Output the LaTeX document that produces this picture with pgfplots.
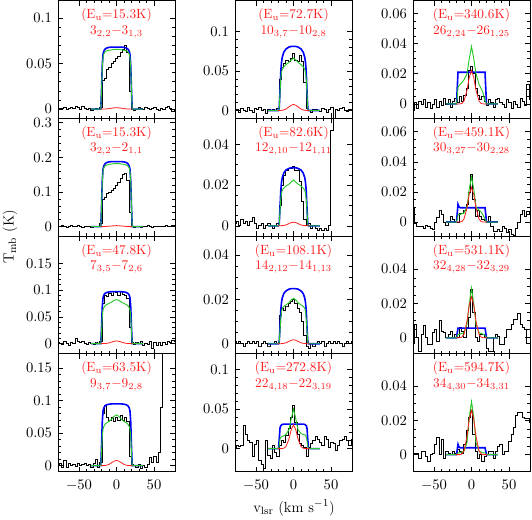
\documentclass[border=0pt]{standalone}
\usepackage{pgfplots}
\usepackage{pgfplotstable}
\pgfplotsset{compat=1.18}
\definecolor{mgreen}{RGB}{40,200,40}
\definecolor{mred}{RGB}{255,30,30}
\definecolor{mblue}{RGB}{0,0,255}

\pgfplotstableread{
x A B C D E F G H I J K L
-78 0.000 0.002 0.003 0.001 0.002 0.001 0.001 0.000 -0.004 0.010 -0.003 0.000
-75 0.001 0.000 0.000 0.003 0.001 0.002 0.000 0.004 0.001 -0.001 0.008 0.001
-72 0.001 0.003 -0.002 -0.002 -0.002 0.000 0.001 0.003 -0.003 -0.003 0.000 0.001
-69 0.002 0.001 0.004 0.008 0.003 0.003 0.000 0.004 0.002 -0.003 -0.008 -0.002
-66 0.000 -0.002 0.001 -0.002 0.000 0.001 -0.001 0.030 0.000 -0.003 0.002 0.002
-63 0.001 0.002 -0.003 0.003 -0.001 0.002 0.000 0.018 0.003 -0.004 0.007 0.002
-60 0.002 0.004 0.002 0.000 0.004 0.000 0.001 0.010 -0.002 -0.002 0.000 -0.001
-57 0.001 0.001 0.000 0.002 0.000 0.002 0.000 0.008 0.001 -0.003 -0.004 -0.004
-54 0.003 0.000 0.010 -0.001 -0.002 0.004 0.001 -0.010 -0.003 -0.004 -0.004 0.000
-51 0.002 0.003 0.004 0.004 0.003 0.001 0.000 0.005 0.000 -0.005 0.003 0.001
-48 0.000 0.002 0.002 0.000 0.001 -0.001 0.001 0.010 0.003 0.000 0.005 0.006
-45 0.003 -0.001 0.005 0.002 0.004 0.000 -0.001 -0.015 -0.002 0.003 -0.002 0.010
-42 0.001 0.000 0.001 0.003 0.000 0.001 0.000 -0.020 0.002 0.008 0.010 0.000
-39 0.000 0.002 -0.002 0.000 0.002 -0.001 0.001 -0.025 -0.001 0.005 0.004 0.009
-36 0.001 0.001 0.002 0.002 -0.003 0.000 0.000 0.010 0.004 0.000 0.003 -0.002
-33 -0.001 -0.002 0.000 -0.002 0.001 0.001 -0.001 -0.008 0.000 -0.002 0.000 0.002
-30 0.000 0.001 -0.002 0.004 0.000 0.000 0.000 -0.012 0.003 0.000 0.002 0.001
-27 0.001 0.000 0.003 0.010 0.002 -0.001 0.000 0.004 -0.002 0.004 0.004 0.000
-24 0.000 0.001 0.001 -0.002 0.000 0.000 0.001 -0.005 0.002 0.002 0.000 0.002
-21 0.002 0.010 0.005 0.005 0.003 0.001 0.000 -0.010 0.004 0.000 0.002 0.001
-18 0.032 0.080 0.075 0.080 0.040 0.010 0.013 0.004 0.001 0.000 0.000 0.003
-15 0.034 0.086 0.090 0.092 0.055 0.020 0.016 0.010 0.005 0.006 0.006 0.002
-12 0.044 0.095 0.088 0.075 0.060 0.025 0.015 0.008 0.002 0.006 0.004 0.001
-9 0.046 0.100 0.094 0.070 0.064 0.027 0.017 0.017 0.006 0.008 0.000 0.006
-6 0.050 0.105 0.090 0.075 0.062 0.028 0.018 0.025 0.010 0.012 0.006 0.014
-3 0.052 0.112 0.098 0.068 0.066 0.028 0.019 0.040 0.022 0.020 0.012 0.022
0 0.056 0.118 0.095 0.075 0.072 0.029 0.020 0.055 0.025 0.032 0.028 0.026
3 0.058 0.128 0.090 0.070 0.064 0.027 0.018 0.033 0.020 0.015 0.015 0.012
6 0.062 0.140 0.097 0.077 0.062 0.027 0.016 0.018 0.010 0.004 0.000 0.002
9 0.066 0.150 0.092 0.070 0.070 0.022 0.014 0.006 0.006 0.008 -0.002 -0.002
12 0.070 0.155 0.090 0.075 0.062 0.012 0.010 0.004 0.003 0.004 0.002 0.000
15 0.062 0.135 0.085 0.068 0.035 0.003 0.004 0.002 0.005 0.002 0.002 -0.004
18 0.020 0.040 0.030 0.015 0.003 0.000 -0.001 -0.010 0.002 0.001 0.000 -0.001
21 0.000 0.000 0.002 0.002 0.000 0.001 -0.002 0.002 -0.001 0.000 -0.006 0.000
24 -0.001 -0.003 -0.002 0.000 -0.002 -0.001 0.000 0.006 0.003 0.004 -0.008 0.002
27 0.000 0.001 0.003 -0.002 0.001 0.000 -0.001 0.010 0.001 -0.003 -0.008 0.002
30 0.002 0.002 0.000 0.002 0.002 -0.001 0.000 0.016 -0.002 -0.006 0.000 -0.002
33 0.001 -0.002 0.004 -0.004 0.000 -0.002 0.001 0.012 0.003 -0.006 0.002 0.002
36 0.000 0.000 -0.003 0.000 -0.001 -0.001 0.000 0.008 0.004 -0.005 0.001 0.005
39 0.002 0.001 0.001 -0.003 0.003 -0.002 0.001 0.004 0.001 -0.006 -0.004 0.006
42 0.001 0.003 -0.002 0.002 0.001 -0.001 -0.001 0.015 0.000 -0.003 -0.004 0.000
45 0.000 0.000 0.004 0.012 -0.002 -0.002 0.000 0.012 -0.002 -0.004 0.000 0.002
48 0.001 -0.001 -0.008 0.005 0.002 0.000 0.001 0.002 0.003 -0.007 0.005 0.002
51 0.002 0.002 0.002 0.015 0.004 0.047 0.000 0.008 0.001 -0.005 0.005 0.008
54 0.000 0.001 -0.003 0.005 -0.012 0.070 0.001 0.006 -0.003 -0.008 0.008 0.012
57 -0.001 0.000 0.003 0.020 0.002 0.070 0.000 -0.002 0.002 -0.009 0.011 0.016
60 0.001 0.002 -0.004 0.090 0.000 0.070 0.001 0.004 0.000 -0.004 0.011 0.023
63 0.000 0.001 0.002 0.250 0.003 0.070 0.000 0.010 -0.002 0.000 0.014 0.025
66 0.002 0.004 -0.001 0.300 0.004 0.070 -0.001 0.012 0.004 0.005 0.008 0.025
69 0.003 0.002 0.004 0.300 0.000 0.070 0.000 0.016 0.002 0.008 0.006 0.022
72 0.001 0.000 0.002 0.300 -0.001 0.070 0.001 0.010 -0.001 0.004 0.005 0.021
75 -0.002 0.003 0.006 0.300 0.002 0.070 0.000 0.004 0.013 0.007 -0.003 0.021
78 0.000 0.001 0.004 0.300 0.001 0.070 0.001 0.012 0.003 0.006 -0.003 0.019
}\obs

\pgfplotstableread{
v b g r
-34 0 0 nan
-21 0 0 0
-20 0.0204 0.019 0.0001
-19 0.0476 0.045 0.0001
-18 0.0598 0.056 0.0001
-17 0.0632 0.060 0.0002
-16 0.0649 0.062 0.0002
-15 0.0660 0.063 0.0002
-13 0.0670 0.064 0.0003
-10 0.0677 0.0645 0.0006
-6 0.068 0.065 0.0011
-3 0.068 0.0655 0.0014
0 0.068 0.0655 0.0015
3 0.068 0.0655 0.0014
6 0.068 0.065 0.0011
10 0.0677 0.0645 0.0006
13 0.0670 0.064 0.0003
15 0.0660 0.063 0.0002
16 0.0649 0.062 0.0002
17 0.0632 0.060 0.0002
18 0.0598 0.056 0.0001
19 0.0476 0.045 0.0001
20 0.0204 0.019 0.0001
21 0 0 0
35 0 0 nan
}\mA

\pgfplotstableread{
v b g r
-34 0 0 nan
-21 0 0 0
-20 0.0564 0.054 0.0001
-19 0.1316 0.127 0.0001
-18 0.1654 0.160 0.0002
-17 0.1748 0.169 0.0003
-16 0.1795 0.173 0.0004
-15 0.1824 0.176 0.0005
-13 0.1852 0.178 0.0008
-10 0.1871 0.180 0.0013
-6 0.188 0.181 0.0021
-3 0.188 0.182 0.0027
0 0.188 0.182 0.003
3 0.188 0.182 0.0027
6 0.188 0.181 0.0021
10 0.1871 0.180 0.0013
13 0.1852 0.178 0.0008
15 0.1824 0.176 0.0005
16 0.1795 0.173 0.0004
17 0.1748 0.169 0.0003
18 0.1654 0.160 0.0002
19 0.1316 0.127 0.0001
20 0.0564 0.054 0.0001
21 0 0 0
35 0 0 nan
}\mB

\pgfplotstableread{
v b g r
-34 0 0 nan
-21 0 0 0
-20 0.0291 0.022 0
-19 0.0679 0.050 0
-18 0.0854 0.063 0.0001
-17 0.0902 0.067 0.0001
-16 0.0926 0.069 0.0002
-15 0.0941 0.071 0.0002
-13 0.0955 0.073 0.0005
-10 0.0965 0.075 0.0013
-6 0.097 0.078 0.003
-3 0.097 0.081 0.0044
0 0.097 0.082 0.005
3 0.097 0.081 0.0044
6 0.097 0.078 0.003
10 0.0965 0.075 0.0013
13 0.0955 0.073 0.0005
15 0.0941 0.071 0.0002
16 0.0926 0.069 0.0002
17 0.0902 0.067 0.0001
18 0.0854 0.063 0.0001
19 0.0679 0.050 0
20 0.0291 0.022 0
21 0 0 0
35 0 0 nan
}\mC

\pgfplotstableread{
v b g r
-34 0 0 nan
-21 0 0 0
-20 0.0285 0.020 0
-19 0.0665 0.045 0.0001
-18 0.0836 0.056 0.0001
-17 0.0884 0.060 0.0002
-16 0.0907 0.062 0.0003
-15 0.0922 0.064 0.0003
-13 0.0936 0.066 0.0008
-10 0.0945 0.068 0.002
-6 0.095 0.072 0.0049
-3 0.095 0.076 0.007
0 0.095 0.078 0.008
3 0.095 0.076 0.007
6 0.095 0.072 0.0049
10 0.0945 0.068 0.002
13 0.0936 0.066 0.0008
15 0.0922 0.064 0.0003
16 0.0907 0.062 0.0003
17 0.0884 0.060 0.0002
18 0.0836 0.056 0.0001
19 0.0665 0.045 0.0001
20 0.0285 0.020 0
21 0 0 0
35 0 0 nan
}\mD

\pgfplotstableread{
v b g r
-34 0 0 nan
-21 0 0 0
-20 0 0 0
-19 0.004 0.004 0
-18 0.0243 0.022 0.0001
-17 0.0486 0.040 0.0001
-16 0.0608 0.048 0.0002
-15 0.0672 0.052 0.0003
-13 0.0737 0.055 0.0007
-10 0.0778 0.058 0.0019
-6 0.0802 0.061 0.0046
-3 0.081 0.064 0.0067
0 0.081 0.066 0.0076
3 0.081 0.064 0.0067
6 0.0802 0.061 0.0046
10 0.0778 0.058 0.0019
13 0.0737 0.055 0.0007
15 0.0672 0.052 0.0003
16 0.0608 0.048 0.0002
17 0.0486 0.040 0.0001
18 0.0243 0.022 0.0001
19 0.004 0.004 0
20 0 0 0
21 0 0 0
35 0 0 nan
}\mE

\pgfplotstableread{
v b g r
-34 0 0 nan
-21 0 0 0
-20 0 0 0
-19 0.0014 0.001 0
-18 0.0086 0.007 0
-17 0.0171 0.013 0
-16 0.0214 0.016 0.0001
-15 0.0237 0.0175 0.0001
-13 0.0259 0.0185 0.0002
-10 0.0274 0.0195 0.00045
-6 0.0282 0.0205 0.0011
-3 0.0285 0.0215 0.0016
0 0.0285 0.0225 0.0018
3 0.0285 0.0215 0.0016
6 0.0282 0.0205 0.0011
10 0.0274 0.0195 0.00045
13 0.0259 0.0185 0.0002
15 0.0237 0.0175 0.0001
16 0.0214 0.016 0.0001
17 0.0171 0.013 0
18 0.0086 0.007 0
19 0.0014 0.001 0
20 0 0 0
21 0 0 0
35 0 0 nan
}\mF

\pgfplotstableread{
v b g r
-34 0 0 nan
-21 0 0 0
-20 0 0 0
-19 0.0012 0.001 0
-18 0.0074 0.006 0
-17 0.0149 0.011 0
-16 0.0186 0.0145 0.0001
-15 0.0206 0.016 0.0001
-13 0.0226 0.0168 0.0002
-10 0.0238 0.0175 0.00045
-6 0.0246 0.0185 0.0011
-3 0.0248 0.0198 0.0016
0 0.0248 0.0204 0.0018
3 0.0248 0.0198 0.0016
6 0.0246 0.0185 0.0011
10 0.0238 0.0175 0.00045
13 0.0226 0.0168 0.0002
15 0.0206 0.016 0.0001
16 0.0186 0.0145 0.0001
17 0.0149 0.011 0
18 0.0074 0.006 0
19 0.0012 0.001 0
20 0 0 0
21 0 0 0
35 0 0 nan
}\mG

\pgfplotstableread{
v b g r
-34 0 0 nan
-21 0 0 0
-20 0 0 0
-19 0.012 0.004 0
-18 0.026 0.012 0
-17 0.029 0.014 0
-16 0.030 0.015 0
-15 0.0305 0.0155 0.0001
-13 0.031 0.016 0.00045
-10 0.031 0.018 0.0026
-6 0.031 0.024 0.0123
-3 0.031 0.038 0.024
0 0.031 0.050 0.030
3 0.031 0.038 0.024
6 0.031 0.024 0.0123
10 0.031 0.019 0.0026
13 0.031 0.018 0.00045
15 0.0305 0.0175 0.0001
16 0.030 0.017 0
17 0.029 0.015 0
18 0.026 0.010 0
19 0.012 0.003 0
20 0 0 0
21 0 0 0
35 0 0 nan
}\mH

\pgfplotstableread{
v b g r
-34 0 0 nan
-21 0 0 0
-20 0 0 0
-19 0.0105 0.004 0
-18 0.021 0.011 0
-17 0.021 0.012 0
-16 0.021 0.0125 0
-15 0.021 0.013 0.0001
-13 0.021 0.014 0.0003
-10 0.021 0.016 0.0019
-6 0.021 0.020 0.009
-3 0.021 0.030 0.0176
0 0.021 0.038 0.022
3 0.021 0.030 0.0176
6 0.021 0.020 0.009
10 0.021 0.013 0.0019
13 0.021 0.010 0.0003
15 0.021 0.008 0.0001
16 0.021 0.006 0
17 0.021 0.004 0
18 0.021 0.002 0
19 0.0105 0.001 0
20 0 0 0
21 0 0 0
35 0 0 nan
}\mI

\pgfplotstableread{
v b g r
-34 0 0 nan
-21 0 0 0
-20 0 0 0
-19 0.006 0.002 0
-18 0.0118 0.0045 0
-17 0.0105 0.005 0
-16 0.0098 0.005 0
-15 0.0095 0.005 0.0001
-13 0.0095 0.0055 0.0003
-10 0.0095 0.006 0.002
-6 0.0095 0.010 0.0094
-3 0.0095 0.022 0.0184
0 0.0095 0.030 0.023
3 0.0095 0.022 0.0184
6 0.0095 0.010 0.0094
10 0.0095 0.008 0.002
13 0.0095 0.0065 0.0003
15 0.0095 0.005 0.0001
16 0.0095 0.004 0
17 0.0095 0.003 0
18 0.0095 0.002 0
19 0.005 0.001 0
20 0 0 0
21 0 0 0
35 0 0 nan
}\mJ

\pgfplotstableread{
v b g r
-34 0 0 nan
-21 0 0 0
-20 0 0 0
-19 0.003 0.001 0
-18 0.0057 0.002 0
-17 0.0057 0.002 0
-16 0.0057 0.002 0
-15 0.0057 0.0022 0.0001
-13 0.0057 0.0025 0.0004
-10 0.0057 0.003 0.002
-6 0.0057 0.008 0.0098
-3 0.0057 0.020 0.0192
0 0.0057 0.029 0.024
3 0.0057 0.020 0.0192
6 0.0057 0.008 0.0098
10 0.0057 0.003 0.002
13 0.0057 0.0025 0.0004
15 0.0057 0.0022 0.0001
16 0.0057 0.002 0
17 0.0057 0.002 0
18 0.0057 0.0015 0
19 0.003 0.0008 0
20 0 0 0
21 0 0 0
35 0 0 nan
}\mK

\pgfplotstableread{
v b g r
-34 0 0 nan
-21 0 0 0
-20 0 0 0
-19 0.003 0.0005 0
-18 0.006 0.001 0
-17 0.0048 0.001 0
-16 0.0042 0.001 0
-15 0.004 0.0012 0.0001
-13 0.004 0.0015 0.0004
-10 0.004 0.002 0.0022
-6 0.004 0.007 0.0107
-3 0.004 0.022 0.0208
0 0.004 0.031 0.026
3 0.004 0.022 0.0208
6 0.004 0.007 0.0107
10 0.004 0.002 0.0022
13 0.004 0.0015 0.0004
15 0.004 0.0012 0.0001
16 0.004 0.001 0
17 0.004 0.001 0
18 0.004 0.001 0
19 0.002 0.0005 0
20 0 0 0
21 0 0 0
35 0 0 nan
}\mL

\pgfplotsset{
  panel/.style={
    scale only axis, width=87.75pt, height=88.31pt,
    anchor=north west,
    xmin=-78, xmax=78, xtick={-50,0,50}, minor x tick num=4,
    xticklabels={,,},
    scaled y ticks=false,
    yticklabel style={/pgf/number format/fixed, /pgf/number format/precision=3,
      font=\fontsize{11}{13}\selectfont, xshift=-1pt},
    xticklabel style={font=\fontsize{11}{13}\selectfont, yshift=-3pt},
    major tick length=3.75pt, minor tick length=2pt,
    every tick/.style={black, line width=0.5pt},
    axis line style={line width=0.6pt},
  },
  bottom/.style={xticklabels={$-50$,$0$,$50$}},
  obs/.style={black, line width=0.55pt, const plot mark mid, mark=none},
  mb/.style={mblue, line width=1.2pt, mark=none},
  mg/.style={mgreen, line width=0.7pt, mark=none},
  mr/.style={mred, line width=0.6pt, mark=none},
}
\newcommand{\lbl}[2]{%
  \node[mred, inner sep=0pt, font=\fontsize{10}{12}\selectfont] at (rel axis cs:0.5,0.875) {(E$_\mathrm{u}$=#1K)};
  \node[mred, inner sep=0pt, font=\fontsize{10}{12}\selectfont] at (rel axis cs:0.5,0.735) {$#2$};}
\newcommand{\curves}[2]{%
  \addplot[obs] table[x=x,y=#1]{\obs};
  \addplot[mb] table[x=v,y=b]{#2};
  \addplot[mg] table[x=v,y=g]{#2};
  \addplot[mr] table[x=v,y=r]{#2};}

\begin{document}
\begin{tikzpicture}
\useasboundingbox (0,0) rectangle (399pt,-390pt);

% column 1
\begin{axis}[panel, at={(43.5pt,-0.4pt)}, ymin=-0.01, ymax=0.119, ytick={0,0.05,0.1}, minor y tick num=4]
\curves{A}{\mA}
\lbl{15.3}{3_{2,2}{-}3_{1,3}}
\end{axis}
\begin{axis}[panel, at={(43.5pt,-88.71pt)}, ymin=-0.027, ymax=0.313, ytick={0,0.1,0.2,0.3}, minor y tick num=4]
\curves{B}{\mB}
\lbl{15.3}{3_{2,2}{-}2_{1,1}}
\end{axis}
\begin{axis}[panel, at={(43.5pt,-177.02pt)}, ymin=-0.019, ymax=0.201, ytick={0,0.05,0.1,0.15}, minor y tick num=4]
\curves{C}{\mC}
\lbl{47.8}{7_{3,5}{-}7_{2,6}}
\end{axis}
\begin{axis}[panel, bottom, at={(43.5pt,-265.33pt)}, ymin=-0.009, ymax=0.172, ytick={0,0.05,0.1,0.15}, minor y tick num=4]
\curves{D}{\mD}
\lbl{63.5}{9_{3,7}{-}9_{2,8}}
\end{axis}

% column 2
\begin{axis}[panel, at={(176.25pt,-0.4pt)}, ymin=-0.0098, ymax=0.139, ytick={0,0.05,0.1}, minor y tick num=4]
\curves{E}{\mE}
\lbl{72.7}{10_{3,7}{-}10_{2,8}}
\end{axis}
\begin{axis}[panel, at={(176.25pt,-88.71pt)}, ymin=-0.005, ymax=0.0528, ytick={0,0.02,0.04}, minor y tick num=3]
\curves{F}{\mF}
\lbl{82.6}{12_{2,10}{-}12_{1,11}}
\end{axis}
\begin{axis}[panel, at={(176.25pt,-177.02pt)}, ymin=-0.0045, ymax=0.0485, ytick={0,0.02,0.04}, minor y tick num=3]
\curves{G}{\mG}
\lbl{108.1}{14_{2,12}{-}14_{1,13}}
\end{axis}
\begin{axis}[panel, bottom, at={(176.25pt,-265.33pt)}, ymin=-0.029, ymax=0.12, ytick={0,0.05,0.1}, minor y tick num=4]
\curves{H}{\mH}
\lbl{272.8}{22_{4,18}{-}22_{3,19}}
\end{axis}

% column 3
\begin{axis}[panel, at={(309.75pt,-0.4pt)}, ymin=-0.0095, ymax=0.0685, ytick={0,0.02,0.04,0.06}, minor y tick num=3]
\curves{I}{\mI}
\lbl{340.6}{26_{2,24}{-}26_{1,25}}
\end{axis}
\begin{axis}[panel, at={(309.75pt,-88.71pt)}, ymin=-0.0093, ymax=0.069, ytick={0,0.02,0.04,0.06}, minor y tick num=3]
\curves{J}{\mJ}
\lbl{459.1}{30_{3,27}{-}30_{2,28}}
\end{axis}
\begin{axis}[panel, at={(309.75pt,-177.02pt)}, ymin=-0.0093, ymax=0.0594, ytick={0,0.02,0.04}, minor y tick num=3]
\curves{K}{\mK}
\lbl{531.1}{32_{4,28}{-}32_{3,29}}
\end{axis}
\begin{axis}[panel, bottom, at={(309.75pt,-265.33pt)}, ymin=-0.0099, ymax=0.059, ytick={0,0.02,0.04}, minor y tick num=3]
\curves{L}{\mL}
\lbl{594.7}{34_{4,30}{-}34_{3,31}}
\end{axis}

\node[rotate=90, font=\fontsize{11}{13}\selectfont] at (7.5pt,-177.75pt) {T$_\mathrm{mb}$ (K)};
\node[font=\fontsize{11}{13}\selectfont] at (220.5pt,-381pt) {v$_\mathrm{lsr}$ (km s$^{-1}$)};
\end{tikzpicture}
\end{document}
